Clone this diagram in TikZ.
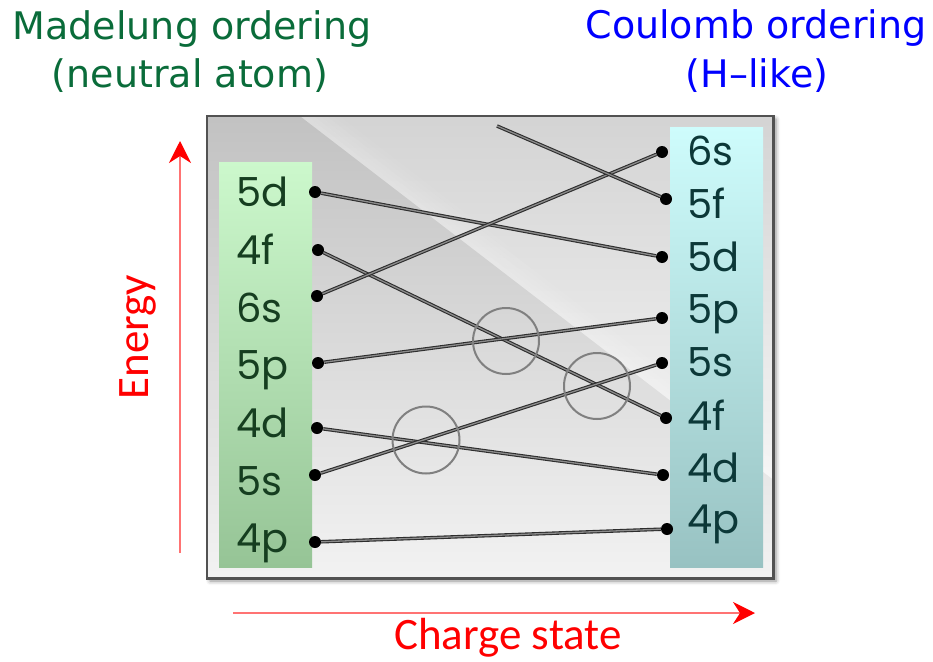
\documentclass[tikz,border=0pt]{standalone}
\usepackage{fontspec}
\usetikzlibrary{arrows.meta,shadows.blur}
\newfontfamily\lvlfont{Poppins}
\newfontfamily\headfont{DejaVu Sans}
\newfontfamily\axisfont{Carlito}
\definecolor{madgreen}{RGB}{10,108,58}
\definecolor{lvlgreen}{RGB}{22,62,32}
\definecolor{lvlteal}{RGB}{12,56,56}
\definecolor{lineout}{RGB}{45,45,45}
\definecolor{linein}{RGB}{140,140,140}
\tikzset{
  head/.style={font=\headfont\fontsize{38}{40}\selectfont, anchor=base, inner sep=0},
  axislabel/.style={font=\axisfont\fontsize{45}{48}\selectfont, text=red, inner sep=0},
  axisarrow/.style={draw=red!55, line width=2,
    -{Stealth[length=22,width=22,inset=7,color=red]}},
  lvlL/.style={font=\lvlfont\fontsize{40}{42}\selectfont, text=lvlgreen, anchor=base west, inner sep=0},
  lvlR/.style={font=\lvlfont\fontsize{40}{42}\selectfont, text=lvlteal, anchor=base west, inner sep=0},
  dot/.style={circle, fill=black, minimum size=12, inner sep=0},
  conn/.style={draw=lineout, line width=1.1, double=linein, double distance=1.3},
  ring/.style={circle, draw=black!50, line width=2, minimum size=66, inner sep=0},
}
\begin{document}
\begin{tikzpicture}[x=1pt, y=-1pt]
\useasboundingbox (0,0) rectangle (933,661);

% headings
\node[head, text=madgreen] (hm1) at (192,40) {Madelung ordering};
\node[head, text=madgreen] (hm2) at (190,87) {(neutral atom)};
\node[head, text=blue] (hc1) at (756,38) {Coulomb ordering};
\node[head, text=blue] (hc2) at (757,87) {(H–like)};

% panel with shaded background
\node[minimum width=566, minimum height=462, inner sep=0,
      top color=black!24, bottom color=black!5,
      blur shadow={shadow xshift=3pt, shadow yshift=-3pt, shadow blur radius=4pt, shadow opacity=45}]
      (panel) at (490,347) {};
\begin{scope}
  \clip (panel.north west) rectangle (panel.south east);
  % lighter upper-right wedge
  \begin{scope}
    \clip (300,116) -- (775,116) -- (775,481) -- cycle;
    \shade[top color=black!17, bottom color=black!4] (300,116) rectangle (775,481);
  \end{scope}
  % soft sheen along the diagonal edge
  \foreach \k in {0,...,5}{
    \fill[white, opacity={0.2*(1-\k/6)}]
      ({300-400*0.793+0.609*4*\k},{116-400*0.609-0.793*4*\k}) --
      ({300+900*0.793+0.609*4*\k},{116+900*0.609-0.793*4*\k}) --
      ({300+900*0.793+0.609*4*(\k+1)},{116+900*0.609-0.793*4*(\k+1)}) --
      ({300-400*0.793+0.609*4*(\k+1)},{116-400*0.609-0.793*4*(\k+1)}) -- cycle;
  }
\end{scope}
\draw[black!68, line width=2.6] (panel.north west) rectangle (panel.south east);

% level columns
\node[minimum width=93, minimum height=405, inner sep=0,
      top color={rgb,255:red,204;green,248;blue,204},
      bottom color={rgb,255:red,150;green,196;blue,150}] (colL) at (265.5,364.5) {};
\node[minimum width=93, minimum height=440, inner sep=0,
      top color={rgb,255:red,206;green,252;blue,252},
      bottom color={rgb,255:red,152;green,194;blue,194}] (colR) at (716.5,347) {};

% Madelung levels
\node[lvlL] (tL5d) at (236,206) {5d};
\node[lvlL] (tL4f) at (236,264) {4f};
\node[lvlL] (tL6s) at (236,322) {6s};
\node[lvlL] (tL5p) at (236,379) {5p};
\node[lvlL] (tL4d) at (236,437) {4d};
\node[lvlL] (tL5s) at (236,495) {5s};
\node[lvlL] (tL4p) at (236,552) {4p};

% Coulomb levels
\node[lvlR] (tR6s) at (687,165) {6s};
\node[lvlR] (tR5f) at (687,218) {5f};
\node[lvlR] (tR5d) at (687,271) {5d};
\node[lvlR] (tR5p) at (687,323) {5p};
\node[lvlR] (tR5s) at (687,376) {5s};
\node[lvlR] (tR4f) at (687,430) {4f};
\node[lvlR] (tR4d) at (687,482) {4d};
\node[lvlR] (tR4p) at (687,533) {4p};

% end points
\node[dot] (L5d) at (315,192) {};
\node[dot] (L4f) at (318,250) {};
\node[dot] (L6s) at (317,296) {};
\node[dot] (L5p) at (318,363) {};
\node[dot] (L4d) at (317,428) {};
\node[dot] (L5s) at (315,475) {};
\node[dot] (L4p) at (315,542) {};

\node[dot] (R6s) at (662,152) {};
\node[dot] (R5f) at (666,199) {};
\node[dot] (R5d) at (662,257) {};
\node[dot] (R5p) at (662,318) {};
\node[dot] (R5s) at (662,363) {};
\node[dot] (R4f) at (666,418) {};
\node[dot] (R4d) at (663,475) {};
\node[dot] (R4p) at (667,529) {};
\coordinate (F5f) at (497,126);

% level correlations
\draw[conn] (L5d) -- (R5d);
\draw[conn] (L4f) -- (R4f);
\draw[conn] (L6s) -- (R6s);
\draw[conn] (L5p) -- (R5p);
\draw[conn] (L4d) -- (R4d);
\draw[conn] (L5s) -- (R5s);
\draw[conn] (L4p) -- (R4p);
\draw[conn] (F5f) -- (R5f);

% crossings
\node[ring] (x1) at (506,341) {};
\node[ring] (x2) at (597,386) {};
\node[ring, minimum size=67] (x3) at (426,440) {};

% axes
\coordinate (e0) at (180,553);
\coordinate (e1) at (180,141);
\draw[axisarrow] (e0) -- (e1);
\node[axislabel, rotate=90] (energy) at (138,337) {Energy};
\coordinate (q0) at (233,613);
\coordinate (q1) at (755,613);
\draw[axisarrow] (q0) -- (q1);
\node[axislabel, anchor=base] (charge) at (508,649) {Charge state};
\end{tikzpicture}
\end{document}
